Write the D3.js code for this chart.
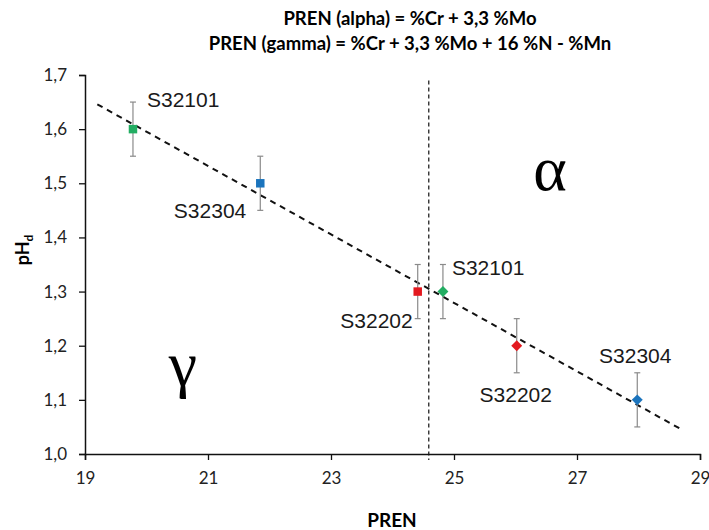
<!DOCTYPE html>
<html><head><meta charset="utf-8">
<script src="https://cdn.jsdelivr.net/npm/d3@7"></script>
<style>body{margin:0;background:#fff}svg{display:block}</style>
</head><body>
<svg id="c" width="709" height="530"></svg>
<script>
// ---- data ----
const grades = ["S32101", "S32304", "S32202", "S32101", "S32202", "S32304"];
const pren = [19.78, 21.85, 24.41, 24.82, 26.02, 27.98];
const phd = [1.6, 1.5, 1.3, 1.3, 1.2, 1.1];
const phdErr = [0.05, 0.05, 0.05, 0.05, 0.05, 0.05];
const phase = ["gamma", "gamma", "gamma", "alpha", "alpha", "alpha"];
const xTicks = [19, 21, 23, 25, 27, 29];
const yTicks = [1.0, 1.1, 1.2, 1.3, 1.4, 1.5, 1.6, 1.7];
const boundaryPren = 24.59;
const trendRange = [19.2, 28.72];
const titleLines = ["PREN (alpha) = %Cr + 3,3 %Mo", "PREN (gamma) = %Cr + 3,3 %Mo + 16 %N - %Mn"];

// ---- styles / layout ----
const gradeColor = {S32101: "#22ad62", S32304: "#1b74bd", S32202: "#e3191f"};
const labelPos = [
  {dx: 14, dy: -22, a: "start"},
  {dx: -14, dy: 35, a: "end"},
  {dx: -5, dy: 36, a: "end"},
  {dx: 9, dy: -17, a: "start"},
  {dx: -1, dy: 56, a: "middle"},
  {dx: -2, dy: -37, a: "middle"}
];

const svg = d3.select("#c");
const x = d3.scaleLinear().domain([19, 29]).range([85, 700]);
const y = d3.scaleLinear().domain([1.0, 1.7]).range([454, 75]);
const tickFont = "Lato, 'Open Sans', sans-serif";

// title
svg.append("g").selectAll("text").data(titleLines).join("text")
  .attr("x", 410).attr("y", (d, i) => 25 + i * 25)
  .attr("text-anchor", "middle")
  .attr("font-family", tickFont).attr("font-weight", "bold").attr("font-size", 18.5)
  .text(d => d);

// axes
const xAxis = svg.append("g").attr("transform", `translate(0,${y(1.0)})`)
  .call(d3.axisBottom(x).tickValues(xTicks).tickSize(6).tickPadding(12).tickFormat(d3.format("d")));
const yAxis = svg.append("g").attr("transform", `translate(${x(19)},0)`)
  .call(d3.axisLeft(y).tickValues(yTicks).tickSize(6).tickPadding(12).tickFormat(d => d3.format(".1f")(d).replace(".", ",")));
[xAxis, yAxis].forEach(g => {
  g.select(".domain").attr("stroke", "#111").attr("stroke-width", 1.5);
  g.selectAll(".tick line").attr("stroke", "#111").attr("stroke-width", 1.3);
  g.selectAll("text").attr("font-family", tickFont).attr("font-size", 17).attr("fill", "#222");
});

// axis titles
svg.append("text").attr("x", 392).attr("y", 527).attr("text-anchor", "middle")
  .attr("font-family", tickFont).attr("font-weight", "bold").attr("font-size", 19).text("PREN");
const yl = svg.append("text").attr("transform", `translate(29,250) rotate(-90)`).attr("text-anchor", "middle")
  .attr("font-family", tickFont).attr("font-weight", "bold").attr("font-size", 18);
yl.append("tspan").text("pH");
yl.append("tspan").attr("font-size", 12).attr("dy", 4).text("d");

// vertical boundary
svg.append("line").attr("x1", x(boundaryPren)).attr("x2", x(boundaryPren))
  .attr("y1", y(1.69)).attr("y2", y(1.0) + 6)
  .attr("stroke", "#111").attr("stroke-width", 1.2).attr("stroke-dasharray", "4,3");

// trendline (linear least squares of the points)
const mx = d3.mean(pren), my = d3.mean(phd);
const slope = d3.sum(pren, (v, i) => (v - mx) * (phd[i] - my)) / d3.sum(pren, v => (v - mx) ** 2);
const icpt = my - slope * mx;
svg.append("line")
  .attr("x1", x(trendRange[0])).attr("y1", y(icpt + slope * trendRange[0]))
  .attr("x2", x(trendRange[1])).attr("y2", y(icpt + slope * trendRange[1]))
  .attr("stroke", "#111").attr("stroke-width", 2).attr("stroke-dasharray", "6,5");

// error bars
const idx = d3.range(pren.length);
const eb = svg.append("g").attr("stroke", "#8a8a8a").attr("stroke-width", 1.2);
idx.forEach(i => {
  const cx = x(pren[i]);
  eb.append("line").attr("x1", cx).attr("x2", cx).attr("y1", y(phd[i] - phdErr[i])).attr("y2", y(phd[i] + phdErr[i]));
  [phd[i] - phdErr[i], phd[i] + phdErr[i]].forEach(v =>
    eb.append("line").attr("x1", cx - 3).attr("x2", cx + 3).attr("y1", y(v)).attr("y2", y(v)));
});

// markers
const sq = d3.symbol().type(d3.symbolSquare);
svg.append("g").selectAll("path").data(idx).join("path")
  .attr("transform", i => `translate(${x(pren[i])},${y(phd[i])})` + (phase[i] === "alpha" ? " rotate(45)" : ""))
  .attr("d", i => phase[i] === "alpha" ? sq.size(60)() : sq.size(72)())
  .attr("fill", i => gradeColor[grades[i]]);

// point labels
svg.append("g").selectAll("text").data(idx).join("text")
  .attr("x", i => x(pren[i]) + labelPos[i].dx)
  .attr("y", i => y(phd[i]) + labelPos[i].dy)
  .attr("text-anchor", i => labelPos[i].a)
  .attr("font-family", "'Liberation Sans', Arial, sans-serif").attr("font-size", 21).attr("fill", "#1a1a1a")
  .text(i => grades[i]);

// phase symbols
svg.append("text").attr("x", 550).attr("y", 190).attr("text-anchor", "middle")
  .attr("font-family", "'Liberation Serif', 'DejaVu Serif', serif").attr("font-size", 64).text("α");
svg.append("text").attr("x", 183).attr("y", 385).attr("text-anchor", "middle")
  .attr("font-family", "'Liberation Serif', 'DejaVu Serif', serif").attr("font-size", 64).text("γ");
</script>
</body></html>
